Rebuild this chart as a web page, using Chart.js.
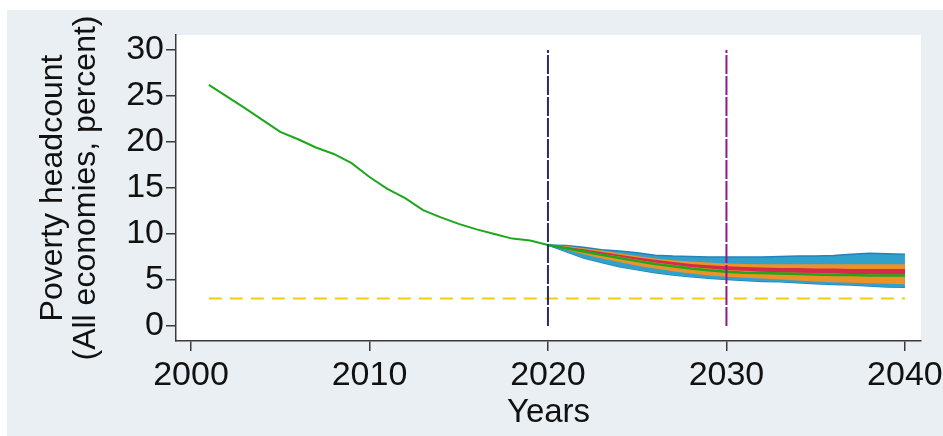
<!DOCTYPE html>
<html>
<head>
<meta charset="utf-8">
<script src="https://cdn.jsdelivr.net/npm/chart.js@4/dist/chart.umd.min.js"></script>
<style>
  html, body { margin: 0; padding: 0; background: #ffffff; }
  #wrap { width: 943px; height: 436px; }
</style>
</head>
<body>
<div id="wrap"><canvas id="chart" width="943" height="436"></canvas></div>
<script>
// Historical poverty headcount (share of population, all economies)
const histYears = [2001, 2002, 2003, 2004, 2005, 2006, 2007, 2008, 2009, 2010,
                   2011, 2012, 2013, 2014, 2015, 2016, 2017, 2018, 2019, 2020];
const histHeadcount = [26.2, 24.95, 23.7, 22.4, 21.1, 20.3, 19.4, 18.7, 17.7, 16.2,
                       14.9, 13.9, 12.6, 11.8, 11.1, 10.5, 10.0, 9.5, 9.3, 8.8];

// Projection fan, 2020-2040
const projYears = [2020, 2021, 2022, 2023, 2024, 2025, 2026, 2027, 2028, 2029, 2030,
                   2031, 2032, 2033, 2034, 2035, 2036, 2037, 2038, 2039, 2040];
const projMedian = [8.8, 8.45, 8.1, 7.75, 7.4, 7.05, 6.75, 6.5, 6.25, 6.05, 5.9,
                    5.8, 5.75, 5.7, 5.65, 5.6, 5.55, 5.55, 5.5, 5.5, 5.5];
const outerHigh  = [8.8, 8.75, 8.55, 8.3, 8.15, 7.95, 7.7, 7.6, 7.55, 7.5, 7.5,
                    7.5, 7.5, 7.55, 7.6, 7.6, 7.65, 7.8, 7.9, 7.85, 7.8];
const outerLow   = [8.8, 8.1, 7.4, 6.9, 6.45, 6.1, 5.8, 5.55, 5.35, 5.2, 5.05,
                    4.95, 4.85, 4.8, 4.7, 4.6, 4.5, 4.45, 4.35, 4.25, 4.2];
const midHigh    = [8.8, 8.7, 8.45, 8.2, 7.9, 7.6, 7.35, 7.15, 7.0, 6.9, 6.8,
                    6.75, 6.7, 6.7, 6.7, 6.7, 6.7, 6.7, 6.7, 6.7, 6.7];
const midLow     = [8.8, 8.3, 7.8, 7.35, 6.95, 6.55, 6.25, 5.95, 5.7, 5.5, 5.35,
                    5.25, 5.15, 5.05, 4.95, 4.85, 4.75, 4.7, 4.65, 4.6, 4.55];
const innerHigh  = [8.8, 8.6, 8.35, 8.05, 7.75, 7.45, 7.2, 6.95, 6.75, 6.6, 6.5,
                    6.4, 6.35, 6.3, 6.3, 6.25, 6.25, 6.2, 6.2, 6.2, 6.2];
const innerLow   = [8.8, 8.5, 8.2, 7.85, 7.55, 7.2, 6.9, 6.65, 6.4, 6.25, 6.1,
                    6.0, 5.9, 5.85, 5.8, 5.75, 5.7, 5.65, 5.65, 5.6, 5.6];

// Reference lines
const targetYears = [2001, 2040];
const targetLevel = 3;
const markerYears = [2020, 2030];
const markerSpan = [0, 30];

// Axis ticks
const xTicks = [2000, 2010, 2020, 2030, 2040];
const yTicks = [0, 5, 10, 15, 20, 25, 30];

const pts = (xs, ys) => xs.map((x, i) => ({ x: x, y: ys[i] }));
const hLine = (xs, v) => xs.map(x => ({ x: x, y: v }));
const vLine = (x, span) => span.map(v => ({ x: x, y: v }));

const FONT = "'Liberation Sans', Arial, sans-serif";

// Paints the grey graph region and the white plot region behind the data
const backdrop = {
  id: 'backdrop',
  beforeDraw(chart) {
    const { ctx, chartArea: a } = chart;
    ctx.save();
    ctx.fillStyle = '#ffffff';
    ctx.fillRect(0, 0, chart.width, chart.height);
    ctx.fillStyle = '#e9eff2';
    ctx.fillRect(7, 10, chart.width - 7, chart.height - 10);
    ctx.fillStyle = '#ffffff';
    ctx.fillRect(a.left, a.top, a.right - a.left, a.bottom - a.top);
    ctx.restore();
  }
};

const line = (data, color, width, extra) => Object.assign({
  data: data, borderColor: color, borderWidth: width, pointRadius: 0,
  fill: false, tension: 0
}, extra || {});

const datasets = [
  line(vLine(markerYears[0], markerSpan), '#2a2d62', 2, { borderDash: [19, 2] }),
  line(vLine(markerYears[1], markerSpan), '#8c1a8e', 2, { borderDash: [19, 2] }),
  line(hLine(targetYears, targetLevel), '#f4cc10', 2, { borderDash: [13, 8] }),
  line(pts(histYears, histHeadcount), '#1ca71c', 2),
  line(pts(projYears, projMedian), '#1ca71c', 2.5),
  line(pts(projYears, innerHigh), '#d42a4c', 0, { fill: '+1', backgroundColor: '#d42a4c' }),
  line(pts(projYears, innerLow), '#d42a4c', 0),
  line(pts(projYears, midHigh), '#ec9229', 0, { fill: '+1', backgroundColor: '#ec9229' }),
  line(pts(projYears, midLow), '#ec9229', 0),
  line(pts(projYears, outerHigh), '#1f84bd', 1.5, { fill: '+1', backgroundColor: '#31a1cb' }),
  line(pts(projYears, outerLow), '#1f84bd', 1.5)
];

// Fixed axis boxes so the plot region keeps its place regardless of label overhang
const fixBox = (size, horizontal) => s => {
  if (horizontal) { s.height = size; } else { s.width = size; }
  s.paddingLeft = 0; s.paddingRight = 0; s.paddingTop = 0; s.paddingBottom = 0;
};

new Chart(document.getElementById('chart'), {
  type: 'line',
  data: { datasets: datasets },
  plugins: [backdrop],
  options: {
    responsive: false,
    animation: false,
    events: [],
    layout: { padding: { left: 0, top: 35, right: 22, bottom: 0 }, autoPadding: false },
    plugins: { legend: { display: false }, tooltip: { enabled: false } },
    scales: {
      x: {
        type: 'linear',
        min: 1999.16,
        max: 2040.9,
        afterFit: fixBox(95, true),
        afterBuildTicks: s => { s.ticks = xTicks.map(v => ({ value: v })); },
        grid: { drawOnChartArea: false, drawTicks: true, tickLength: 10, color: '#3a3a3a', lineWidth: 1.5 },
        border: { display: true, color: '#3a3a3a', width: 1.5 },
        ticks: {
          color: '#111', padding: 4, maxRotation: 0, autoSkip: false,
          font: { family: FONT, size: 34 },
          callback: v => String(v)
        },
        title: {
          display: true, text: 'Years', color: '#111',
          font: { family: FONT, size: 33, lineHeight: 1.05 },
          padding: { top: 0, bottom: 6 }
        }
      },
      y: {
        min: -1.63,
        max: 31.63,
        afterFit: fixBox(176, false),
        afterBuildTicks: s => { s.ticks = yTicks.map(v => ({ value: v })); },
        grid: { drawOnChartArea: false, drawTicks: true, tickLength: 10, color: '#3a3a3a', lineWidth: 1.5 },
        border: { display: true, color: '#3a3a3a', width: 1.5 },
        ticks: {
          color: '#111', padding: 2, autoSkip: false,
          font: { family: FONT, size: 34 },
          callback: v => String(v)
        },
        title: {
          display: true, text: ['Poverty headcount', '(All economies, percent)'], color: '#111',
          font: { family: FONT, size: 32, lineHeight: 1.05 },
          padding: { top: 36, bottom: 0 }
        }
      }
    }
  }
});
</script>
</body>
</html>
